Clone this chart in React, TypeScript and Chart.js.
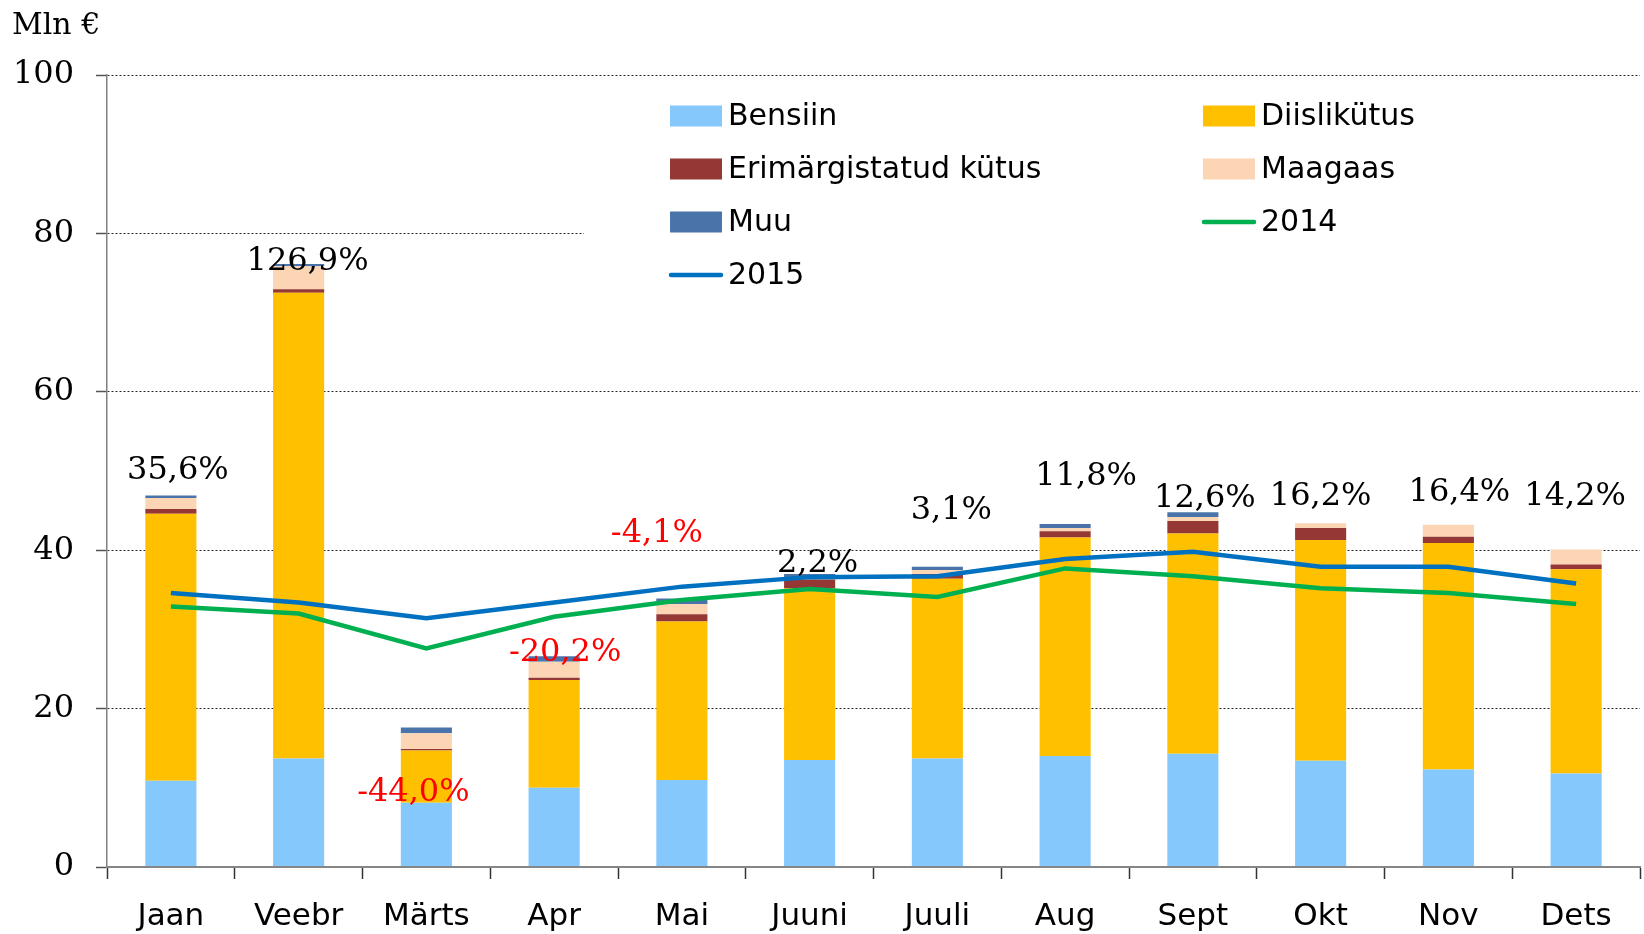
import React, { useEffect, useRef } from 'react';
import { Chart, registerables } from 'chart.js';

Chart.register(...registerables);

// ---- data ----
const months = ['Jaan', 'Veebr', 'Märts', 'Apr', 'Mai', 'Juuni', 'Juuli', 'Aug', 'Sept', 'Okt', 'Nov', 'Dets'];
const bensiin = [10.9, 13.7, 8.1, 10.0, 11.0, 13.5, 13.7, 14.0, 14.3, 13.4, 12.3, 11.8];
const diislikutus = [33.7, 58.8, 6.6, 13.6, 20.0, 21.7, 22.7, 27.6, 27.8, 27.9, 28.6, 25.8];
const erimargistatud = [0.6, 0.45, 0.2, 0.3, 0.9, 1.1, 0.6, 0.8, 1.6, 1.5, 0.8, 0.6];
const maagaas = [1.4, 2.9, 2.0, 2.0, 1.3, 0.3, 0.5, 0.4, 0.5, 0.6, 1.5, 1.9];
const muu = [0.3, 0.3, 0.7, 0.7, 0.7, 0.4, 0.4, 0.5, 0.6, 0.0, 0.0, 0.0];
const y2014 = [32.9, 32.0, 27.6, 31.6, 33.7, 35.1, 34.1, 37.7, 36.7, 35.2, 34.6, 33.2];
const y2015 = [34.6, 33.4, 31.4, 33.4, 35.4, 36.6, 36.7, 38.9, 39.8, 37.9, 37.9, 35.8];
const changeLabels = ['35,6%', '126,9%', '-44,0%', '-20,2%', '-4,1%', '2,2%', '3,1%', '11,8%', '12,6%', '16,2%', '16,4%', '14,2%'];
const yTickValues = [0, 20, 40, 60, 80, 100];
const unitLabel = 'Mln €';

// ---- styling / layout config ----
const COLORS = {
  bensiin: '#85C8FC',
  diisel: '#FFC000',
  erim: '#953735',
  maagaas: '#FCD5B5',
  muu: '#4A74A9',
  l2014: '#00B050',
  l2015: '#0070C0',
};
// label placement: rise above stack top (axis units) and horizontal nudge (px)
const LABEL_LAYOUT = {
  rise: [3.1, 0.25, -8.2, 0.4, 8.2, 1.3, 7.1, 6.0, 1.7, 3.4, 4.1, 6.6],
  dx: [7, 9, -13, 11, -25, 8, 14, 21, 12, 0, 11, -1],
};
const SANS = '"DejaVu Sans", sans-serif';
const SERIF = '"DejaVu Serif", serif';

const overlayPlugin = {
  id: 'overlay',
  beforeDatasetsDraw(chart: any) {
    const ctx = chart.ctx;
    const area = chart.chartArea;
    ctx.save();
    ctx.fillStyle = '#ffffff';
    ctx.fillRect(584, 86, area.right - 584, 214);
    ctx.restore();
  },
  afterDatasetsDraw(chart: any) {
    const ctx = chart.ctx;
    const xs = chart.scales.x;
    const ys = chart.scales.y;
    ctx.save();
    ctx.font = `32px ${SERIF}`;
    ctx.textAlign = 'center';
    ctx.textBaseline = 'middle';
    changeLabels.forEach((lab, i) => {
      const top = bensiin[i] + diislikutus[i] + erimargistatud[i] + maagaas[i] + muu[i];
      const px = xs.getPixelForValue(i) + LABEL_LAYOUT.dx[i];
      const py = ys.getPixelForValue(top + LABEL_LAYOUT.rise[i]);
      ctx.fillStyle = lab.startsWith('-') ? '#FF0000' : '#000000';
      ctx.fillText(lab, px, py);
    });
    ctx.restore();
  },
  afterDraw(chart: any) {
    const ctx = chart.ctx;
    ctx.save();
    // unit label
    ctx.font = `30px ${SERIF}`;
    ctx.fillStyle = '#000';
    ctx.textAlign = 'left';
    ctx.textBaseline = 'alphabetic';
    ctx.fillText(unitLabel, 12, 34);
    // legend
    const colX = [670, 1203];
    const rowY0 = 116;
    const rowGap = 53;
    ctx.font = `30px ${SANS}`;
    ctx.textBaseline = 'middle';
    chart.data.datasets.forEach((ds: any, i: number) => {
      const cx = colX[i % 2];
      const cy = rowY0 + rowGap * Math.floor(i / 2);
      if (ds.type === 'line') {
        ctx.strokeStyle = ds.borderColor;
        ctx.lineWidth = 4.5;
        ctx.lineCap = 'round';
        ctx.beginPath();
        ctx.moveTo(cx + 1, cy);
        ctx.lineTo(cx + 51, cy);
        ctx.stroke();
      } else {
        ctx.fillStyle = ds.backgroundColor;
        ctx.fillRect(cx, cy - 10.5, 52, 21);
      }
      ctx.fillStyle = '#000';
      ctx.fillText(ds.label, cx + 58, cy + 1);
    });
    ctx.restore();
  },
};

export default function App() {
  const ref = useRef<HTMLCanvasElement>(null);
  useEffect(() => {
    const barDs = (label: string, data: number[], color: string) => ({
      type: 'bar' as const,
      label,
      data,
      backgroundColor: color,
      borderWidth: 0,
      stack: 'fuel',
      order: 1,
      categoryPercentage: 1,
      barPercentage: 0.4,
    });
    const lineDs = (label: string, data: number[], color: string, stack: string) => ({
      type: 'line' as const,
      label,
      data,
      borderColor: color,
      backgroundColor: color,
      borderWidth: 4.5,
      pointRadius: 0,
      pointHoverRadius: 0,
      tension: 0,
      fill: false,
      stack,
      order: 0,
    });
    const chart = new Chart(ref.current as HTMLCanvasElement, {
      type: 'bar',
      data: {
        labels: months,
        datasets: [
          barDs('Bensiin', bensiin, COLORS.bensiin),
          barDs('Diislikütus', diislikutus, COLORS.diisel),
          barDs('Erimärgistatud kütus', erimargistatud, COLORS.erim),
          barDs('Maagaas', maagaas, COLORS.maagaas),
          barDs('Muu', muu, COLORS.muu),
          lineDs('2014', y2014, COLORS.l2014, 'line2014'),
          lineDs('2015', y2015, COLORS.l2015, 'line2015'),
        ] as any,
      },
      options: {
        animation: false,
        responsive: false,
        maintainAspectRatio: false,
        layout: { padding: { top: 75, right: 4, left: 0, bottom: 0 } },
        plugins: {
          legend: { display: false },
          tooltip: { enabled: false },
          title: { display: false },
        },
        scales: {
          x: {
            stacked: true,
            afterFit: (s: any) => { s.height = 67; },
            grid: {
              offset: true,
              drawOnChartArea: false,
              drawTicks: true,
              tickLength: 12,
              tickColor: '#333333',
              tickWidth: 1.5,
            },
            border: { display: true, color: '#868686', width: 2, z: 1 },
            ticks: {
              color: '#000',
              font: { family: SANS, size: 31 },
              padding: 19,
              maxRotation: 0,
              autoSkip: false,
            },
          },
          y: {
            stacked: true,
            min: 0,
            max: 100,
            afterFit: (s: any) => { s.width = 107; },
            afterBuildTicks: (s: any) => { s.ticks = yTickValues.map((v) => ({ value: v })); },
            grid: {
              color: 'rgba(0,0,0,0.85)',
              lineWidth: 1,
              drawTicks: true,
              tickLength: 11,
              tickColor: '#555555',
              tickWidth: 1.5,
              tickBorderDash: [],
            },
            border: { display: true, color: '#808080', width: 1.5, dash: [2, 2] },
            ticks: {
              color: '#000',
              font: { family: SERIF, size: 32 },
              padding: 22,
            },
          },
        },
      },
      plugins: [overlayPlugin],
    });
    return () => chart.destroy();
  }, []);
  return (
    <div style={{ position: 'fixed', left: 0, top: 0, width: 1644, height: 934, background: '#ffffff' }}>
      <canvas ref={ref} width={1644} height={934} style={{ display: 'block' }} />
    </div>
  );
}
